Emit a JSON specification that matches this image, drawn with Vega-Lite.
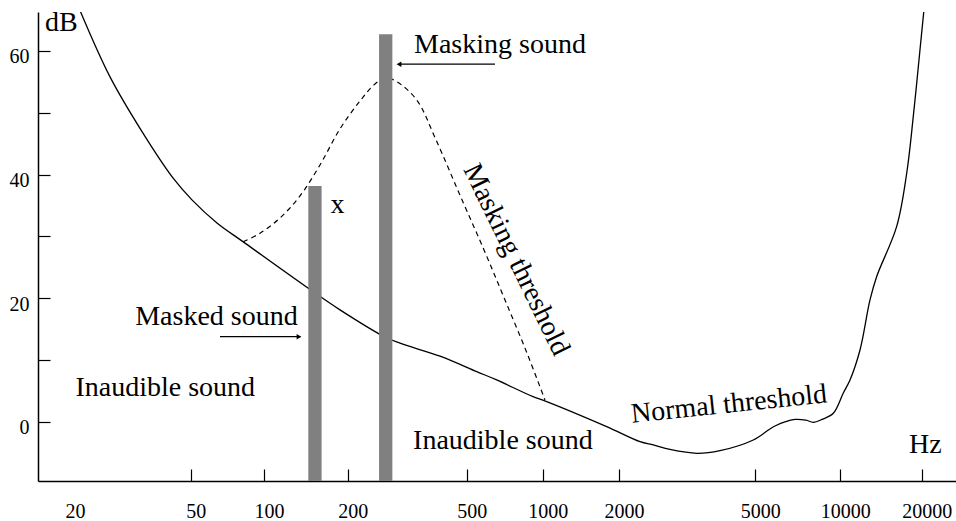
{
  "$schema": "https://vega.github.io/schema/vega-lite/v6.json",
  "width": 918,
  "height": 469,
  "autosize": {"type": "none"},
  "padding": {"left": 38, "top": 12, "right": 0, "bottom": 40},
  "background": "white",
  "config": {"view": {"stroke": null}, "font": "Liberation Serif"},
  "datasets": {
    "normal": [
      {"hz": 21.4, "db": 66.96}, {"hz": 27.1, "db": 55.8}, {"hz": 34.8, "db": 46.7}, {"hz": 43.7, "db": 39.45},
      {"hz": 50.6, "db": 35.9}, {"hz": 64.1, "db": 32.16}, {"hz": 82.2, "db": 29.1}, {"hz": 146.4, "db": 21.4}, {"hz": 187.6, "db": 18.1},
      {"hz": 266.5, "db": 13.7}, {"hz": 299.2, "db": 12.7}, {"hz": 407, "db": 10.6}, {"hz": 547.8, "db": 8.1},
      {"hz": 657.4, "db": 6.75}, {"hz": 915.3, "db": 4.05}, {"hz": 1037, "db": 3.24}, {"hz": 1788, "db": -0.81},
      {"hz": 2303, "db": -3.24}, {"hz": 2519, "db": -3.77}, {"hz": 2818, "db": -4.5},
      {"hz": 3379, "db": -5.12}, {"hz": 3944, "db": -4.69}, {"hz": 4933, "db": -2.96}, {"hz": 5871, "db": -0.7},
      {"hz": 6911, "db": 0.36}, {"hz": 7560, "db": 0.24}, {"hz": 8023, "db": -0.1}, {"hz": 8614, "db": 0.36},
      {"hz": 9445, "db": 1.36}, {"hz": 10259, "db": 4.65}, {"hz": 10862, "db": 6.75}, {"hz": 11826, "db": 11.6},
      {"hz": 12877, "db": 19.7}, {"hz": 13634, "db": 23.5}, {"hz": 16164, "db": 31.6}, {"hz": 17601, "db": 40.2},
      {"hz": 18619, "db": 49.4}, {"hz": 19711, "db": 60.2}, {"hz": 20482, "db": 66.96}
    ],
    "masking": [
      {"hz": 82.2, "db": 29.1}, {"hz": 96.3, "db": 30.5}, {"hz": 114.2, "db": 32.97}, {"hz": 134.7, "db": 36.53},
      {"hz": 159.0, "db": 41.55}, {"hz": 187.6, "db": 47.38}, {"hz": 219.9, "db": 51.91}, {"hz": 246.8, "db": 54.66},
      {"hz": 268.6, "db": 55.64}, {"hz": 291.7, "db": 55.03}, {"hz": 340.2, "db": 52.07}, {"hz": 394.8, "db": 45.6},
      {"hz": 482.2, "db": 35.9}, {"hz": 585.5, "db": 27.8}, {"hz": 709.0, "db": 19.7}, {"hz": 866.6, "db": 11.1},
      {"hz": 1021, "db": 3.5}
    ],
    "bars": [
      {"name": "Masked sound", "hz": 152.5, "db": 38.15},
      {"name": "Masking sound", "hz": 268.0, "db": 62.7}
    ],
    "arrows": [
      {"hz": 647.3, "hz2": 295.0, "db": 57.85},
      {"hz": 65.96, "hz2": 135.0, "db": 13.76}
    ],
    "heads": [
      {"hz": 296.9, "db": 57.85, "dir": "left"},
      {"hz": 133.6, "db": 13.76, "dir": "right"}
    ],
    "texts": [
      {"text": "dB", "hz": 18.54, "db": 64.5, "angle": 0},
      {"text": "Masking sound", "hz": 677.4, "db": 60.96, "angle": 0},
      {"text": "Masked sound", "hz": 63.8, "db": 16.9, "angle": 0},
      {"text": "Inaudible sound", "hz": 41.2, "db": 5.41, "angle": 0},
      {"text": "Inaudible sound", "hz": 695.6, "db": -3.06, "angle": 0},
      {"text": "x", "hz": 183.8, "db": 35.1, "angle": 0},
      {"text": "Hz", "hz": 20710, "db": -3.76, "angle": 0},
      {"text": "Masking threshold", "hz": 783.8, "db": 26.2, "angle": 64},
      {"text": "Normal threshold", "hz": 4190, "db": 2.77, "angle": -6}
    ]
  },
  "encoding": {
    "x": {
      "field": "hz",
      "type": "quantitative",
      "scale": {
        "type": "log",
        "nice": false,
        "zero": false,
        "domain": [15.69, 20, 50, 100, 200, 500, 1000, 2000, 5000, 10000, 20000, 26784],
        "range": [0, 32, 152.7, 226, 309.7, 428.7, 504.7, 581, 717.3, 802.3, 883.7, 918]
      },
      "axis": {
        "values": [20, 50, 100, 200, 500, 1000, 2000, 5000, 10000, 20000],
        "format": "d",
        "title": null,
        "grid": false,
        "tickSize": -12,
        "tickWidth": 1.2,
        "tickColor": "black",
        "tickOpacity": {"condition": {"test": "datum.value === 20", "value": 0}, "value": 1},
        "domainColor": "black",
        "domainWidth": 1.5,
        "labelFont": "Liberation Serif",
        "labelFontSize": 20,
        "labelColor": "black",
        "labelPadding": 32,
        "labelOffset": 5,
        "labelFlush": false,
        "labelOverlap": false,
        "labelBaseline": "top"
      }
    },
    "y": {
      "field": "db",
      "type": "quantitative",
      "scale": {"domain": [-9.6, 66.3], "nice": false, "zero": false},
      "axis": {
        "values": [0, 10, 20, 30, 40, 50, 60],
        "labelExpr": "datum.value % 20 === 0 ? datum.label : ''",
        "title": null,
        "grid": false,
        "tickSize": -12,
        "tickWidth": 1.2,
        "tickColor": "black",
        "domainColor": "black",
        "domainWidth": 1.5,
        "labelFont": "Liberation Serif",
        "labelFontSize": 20,
        "labelColor": "black",
        "labelPadding": 21,
        "labelOffset": 6,
        "labelFlush": false,
        "labelOverlap": false
      }
    }
  },
  "layer": [
    {
      "data": {"name": "normal"},
      "mark": {"type": "line", "color": "black", "strokeWidth": 1.3, "interpolate": "catmull-rom", "clip": true}
    },
    {
      "data": {"name": "masking"},
      "mark": {"type": "line", "color": "black", "strokeWidth": 1.2, "strokeDash": [5, 4], "interpolate": "catmull-rom", "clip": true}
    },
    {
      "data": {"name": "bars"},
      "mark": {"type": "bar", "color": "#808080", "size": 13.3},
      "encoding": {"y2": {"datum": -9.6}}
    },
    {
      "data": {"name": "arrows"},
      "mark": {"type": "rule", "color": "black", "strokeWidth": 1.2},
      "encoding": {"x2": {"field": "hz2"}}
    },
    {
      "data": {"name": "heads"},
      "mark": {"type": "point", "filled": true, "color": "black", "size": 30, "opacity": 1},
      "encoding": {
        "shape": {"field": "dir", "type": "nominal", "scale": {"domain": ["left", "right"], "range": ["triangle-left", "triangle-right"]}, "legend": null}
      }
    },
    {
      "data": {"name": "texts"},
      "mark": {"type": "text", "font": "Liberation Serif", "fontSize": 28, "align": "center", "baseline": "middle", "color": "black"},
      "encoding": {
        "text": {"field": "text", "type": "nominal"},
        "angle": {"field": "angle", "type": "quantitative", "scale": null}
      }
    }
  ]
}
